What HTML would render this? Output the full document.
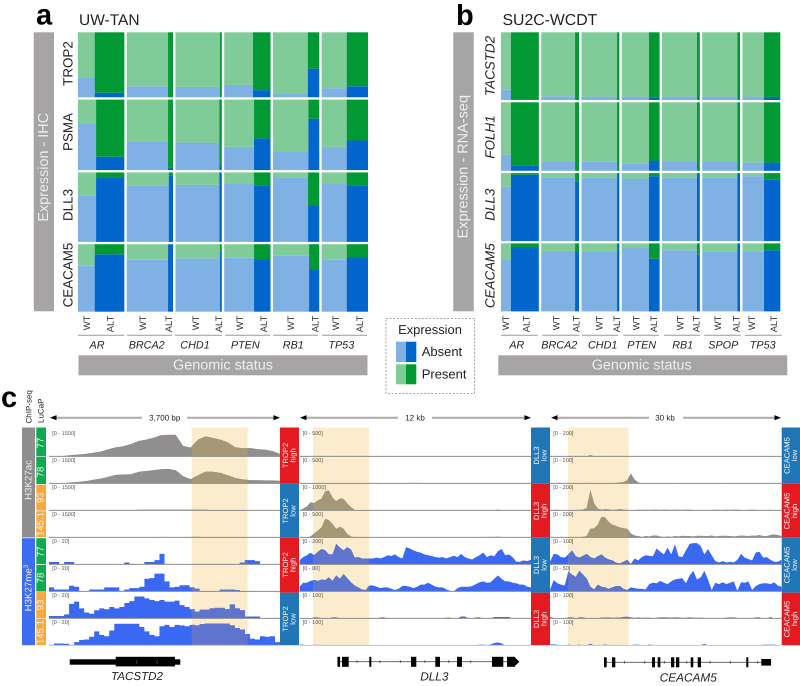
<!DOCTYPE html>
<html lang="en">
<head>
<meta charset="utf-8">
<title>Expression and ChIP-seq figure</title>
<style>
html,body{margin:0;padding:0;background:#fff}
svg{display:block;filter:blur(.3px)}
text{font-family:"Liberation Sans",sans-serif;fill:#222;text-rendering:geometricPrecision}
.rot{dominant-baseline:central}
.wl{font-size:9.4px;text-anchor:end;dominant-baseline:central;fill:#333}
.gl{font-size:10.8px;font-style:italic;text-anchor:middle;dominant-baseline:central;fill:#222}
.ul{stroke:#9a9a9a;stroke-width:1}
.wh{fill:#eee;text-anchor:middle;dominant-baseline:central}
.sb{fill:#f4f4f4;font-size:7.6px;text-anchor:middle;dominant-baseline:central}
.lu{fill:#f2f2f2;font-size:9.6px;text-anchor:middle;dominant-baseline:central}
.ex{fill:#000}
.ch{fill:none;stroke:#333;stroke-width:.6}
</style>
</head>
<body>
<svg id="fig" xmlns="http://www.w3.org/2000/svg" width="800" height="686" viewBox="0 0 800 686">
  <defs id="clips"></defs>
  <text x="36" y="24.5" font-size="29" font-weight="bold" fill="#000" style="fill:#000">a</text>
  <text x="79" y="25" font-size="15.5">UW-TAN</text>
  <text x="456" y="25" font-size="29" font-weight="bold" style="fill:#000">b</text>
  <text x="502.5" y="25" font-size="15.8">SU2C-WCDT</text>
  <text x="1" y="407" font-size="29" font-weight="bold" style="fill:#000">c</text>

  <rect x="33.7" y="32.3" width="20.3" height="279" fill="#a6a4a5"/>
  <text class="wh" font-size="14.4" transform="translate(44,167.3) rotate(-90)">Expression - IHC</text>
  <rect x="453.3" y="32.3" width="20.4" height="279" fill="#a6a4a5"/>
  <text class="wh" font-size="14.5" transform="translate(463.5,166.7) rotate(-90)">Expression - RNA-seq</text>

  <g font-size="13.4">
    <text class="rot" text-anchor="middle" transform="translate(68,63.5) rotate(-90)">TROP2</text>
    <text class="rot" text-anchor="middle" transform="translate(68,132) rotate(-90)">PSMA</text>
    <text class="rot" text-anchor="middle" transform="translate(68,205) rotate(-90)">DLL3</text>
    <text class="rot" text-anchor="middle" transform="translate(68,275) rotate(-90)">CEACAM5</text>
  </g>
  <g font-size="13.4" font-style="italic">
    <text class="rot" text-anchor="middle" transform="translate(490,66) rotate(-90)">TACSTD2</text>
    <text class="rot" text-anchor="middle" transform="translate(490,137) rotate(-90)">FOLH1</text>
    <text class="rot" text-anchor="middle" transform="translate(490,204.7) rotate(-90)">DLL3</text>
    <text class="rot" text-anchor="middle" transform="translate(490,275.7) rotate(-90)">CEACAM5</text>
  </g>

  <g id="mosaicA"></g>
  <g id="mosaicB"></g>

  <g>
    <text class="wl" transform="translate(86.7,315.7) rotate(-90)">WT</text>
    <text class="wl" transform="translate(110,315.7) rotate(-90)">ALT</text>
    <text class="wl" transform="translate(142.7,315.7) rotate(-90)">WT</text>
    <text class="wl" transform="translate(168.3,315.7) rotate(-90)">ALT</text>
    <text class="wl" transform="translate(195.3,315.7) rotate(-90)">WT</text>
    <text class="wl" transform="translate(218.3,315.7) rotate(-90)">ALT</text>
    <text class="wl" transform="translate(239.3,315.7) rotate(-90)">WT</text>
    <text class="wl" transform="translate(263.3,315.7) rotate(-90)">ALT</text>
    <text class="wl" transform="translate(290.7,315.7) rotate(-90)">WT</text>
    <text class="wl" transform="translate(315,315.7) rotate(-90)">ALT</text>
    <text class="wl" transform="translate(335.7,315.7) rotate(-90)">WT</text>
    <text class="wl" transform="translate(359.3,315.7) rotate(-90)">ALT</text>
    <line class="ul" x1="78" x2="124" y1="335.3" y2="335.3"/>
    <line class="ul" x1="127" x2="172" y1="335.3" y2="335.3"/>
    <line class="ul" x1="175" x2="222" y1="335.3" y2="335.3"/>
    <line class="ul" x1="225" x2="270" y1="335.3" y2="335.3"/>
    <line class="ul" x1="273" x2="318" y1="335.3" y2="335.3"/>
    <line class="ul" x1="322" x2="367" y1="335.3" y2="335.3"/>
    <text class="gl" x="97" y="345.7">AR</text>
    <text class="gl" x="146.7" y="345.7">BRCA2</text>
    <text class="gl" x="195" y="345.7">CHD1</text>
    <text class="gl" x="245.3" y="345.7">PTEN</text>
    <text class="gl" x="293.3" y="345.7">RB1</text>
    <text class="gl" x="341.3" y="345.7">TP53</text>
    <rect x="78.5" y="355.3" width="289" height="20" fill="#a6a4a5"/>
    <text class="wh" font-size="14.4" x="223" y="365.3">Genomic status</text>
  </g>

  <g>
    <text class="wl" transform="translate(505.7,315.7) rotate(-90)">WT</text>
    <text class="wl" transform="translate(526,315.7) rotate(-90)">ALT</text>
    <text class="wl" transform="translate(556,315.7) rotate(-90)">WT</text>
    <text class="wl" transform="translate(576,315.7) rotate(-90)">ALT</text>
    <text class="wl" transform="translate(599,315.7) rotate(-90)">WT</text>
    <text class="wl" transform="translate(616.7,315.7) rotate(-90)">ALT</text>
    <text class="wl" transform="translate(636,315.7) rotate(-90)">WT</text>
    <text class="wl" transform="translate(653.3,315.7) rotate(-90)">ALT</text>
    <text class="wl" transform="translate(680,315.7) rotate(-90)">WT</text>
    <text class="wl" transform="translate(696,315.7) rotate(-90)">ALT</text>
    <text class="wl" transform="translate(717.3,315.7) rotate(-90)">WT</text>
    <text class="wl" transform="translate(736,315.7) rotate(-90)">ALT</text>
    <text class="wl" transform="translate(751.7,315.7) rotate(-90)">WT</text>
    <text class="wl" transform="translate(773.3,315.7) rotate(-90)">ALT</text>
    <line class="ul" x1="501" x2="537.7" y1="335.3" y2="335.3"/>
    <line class="ul" x1="542.3" x2="579.3" y1="335.3" y2="335.3"/>
    <line class="ul" x1="581.7" x2="618" y1="335.3" y2="335.3"/>
    <line class="ul" x1="623.3" x2="659" y1="335.3" y2="335.3"/>
    <line class="ul" x1="664" x2="700" y1="335.3" y2="335.3"/>
    <line class="ul" x1="704.3" x2="740.7" y1="335.3" y2="335.3"/>
    <line class="ul" x1="744.7" x2="781.7" y1="335.3" y2="335.3"/>
    <text class="gl" x="516.7" y="345.7">AR</text>
    <text class="gl" x="559.3" y="345.7">BRCA2</text>
    <text class="gl" x="602.7" y="345.7">CHD1</text>
    <text class="gl" x="641.7" y="345.7">PTEN</text>
    <text class="gl" x="682.7" y="345.7">RB1</text>
    <text class="gl" x="723.3" y="345.7">SPOP</text>
    <text class="gl" x="762.7" y="345.7">TP53</text>
    <rect x="498.3" y="355.3" width="289" height="20" fill="#a6a4a5"/>
    <text class="wh" font-size="14.4" x="641.7" y="365.3">Genomic status</text>
  </g>

  <g>
    <rect x="386" y="318.3" width="88.7" height="75" fill="none" stroke="#777" stroke-width=".7" stroke-dasharray="2 1.6"/>
    <text x="430" y="329.5" font-size="12.9" text-anchor="middle" dominant-baseline="central">Expression</text>
    <rect x="396" y="341.7" width="10" height="20.3" fill="#7fb1e4"/>
    <rect x="406" y="341.7" width="10.3" height="20.3" fill="#0066cc"/>
    <rect x="396" y="364.3" width="10" height="20" fill="#80cc99"/>
    <rect x="406" y="364.3" width="10.3" height="20" fill="#009933"/>
    <text x="421.7" y="351.5" font-size="13" dominant-baseline="central">Absent</text>
    <text x="421.7" y="374" font-size="13" dominant-baseline="central">Present</text>
  </g>

  <g font-size="8">
    <text class="rot" text-anchor="start" transform="translate(29,423.5) rotate(-90)">ChIP-seq</text>
    <text class="rot" text-anchor="start" transform="translate(41,423) rotate(-90)">LuCaP</text>
  </g>

  <g font-size="8">
    <line x1="53" x2="142" y1="417.7" y2="417.7" stroke="#aaa" stroke-width="2"/>
    <line x1="187" x2="277" y1="417.7" y2="417.7" stroke="#aaa" stroke-width="2"/>
    <path d="M50 417.7l6.5-2.6v5.2zM280 417.7l-6.5-2.6v5.2z" fill="#000"/>
    <text x="164.7" y="418" text-anchor="middle" dominant-baseline="central">3,700 bp</text>
    <line x1="303" x2="398" y1="417.7" y2="417.7" stroke="#aaa" stroke-width="2"/>
    <line x1="432" x2="528" y1="417.7" y2="417.7" stroke="#aaa" stroke-width="2"/>
    <path d="M300 417.7l6.5-2.6v5.2zM531 417.7l-6.5-2.6v5.2z" fill="#000"/>
    <text x="415" y="418" text-anchor="middle" dominant-baseline="central">12 kb</text>
    <line x1="554" x2="649" y1="417.7" y2="417.7" stroke="#aaa" stroke-width="2"/>
    <line x1="683" x2="778" y1="417.7" y2="417.7" stroke="#aaa" stroke-width="2"/>
    <path d="M551 417.7l6.5-2.6v5.2zM781 417.7l-6.5-2.6v5.2z" fill="#000"/>
    <text x="665" y="418" text-anchor="middle" dominant-baseline="central">30 kb</text>
  </g>

  <g>
    <rect x="22" y="427.5" width="13" height="110" fill="#8f8d8d"/>
    <text class="wh" font-size="9.7" transform="translate(29,480) rotate(-90)">H3K27ac</text>
    <rect x="22" y="538.2" width="13" height="107" fill="#3c6cf2"/>
    <text class="wh" font-size="9.7" transform="translate(29,588) rotate(-90)">H3K27me<tspan font-size="6.5" dy="-3">3</tspan></text>
    <rect x="36.3" y="427.5" width="9.7" height="28.5" fill="#0fa94f"/>
    <rect x="36.3" y="456.6" width="9.7" height="27.4" fill="#0fa94f"/>
    <rect x="36.3" y="484.6" width="9.7" height="26" fill="#f9a840"/>
    <rect x="36.3" y="511.2" width="9.7" height="26" fill="#f9a840"/>
    <rect x="36.3" y="538.2" width="9.7" height="26" fill="#0fa94f"/>
    <rect x="36.3" y="565" width="9.7" height="26.5" fill="#0fa94f"/>
    <rect x="36.3" y="592.1" width="9.7" height="26" fill="#f9a840"/>
    <rect x="36.3" y="618.7" width="9.7" height="26.5" fill="#f9a840"/>
    <text class="lu" transform="translate(41.2,443) rotate(-90)">77</text>
    <text class="lu" transform="translate(41.2,472) rotate(-90)">78</text>
    <text class="lu" transform="translate(41.2,497.7) rotate(-90)">93</text>
    <text class="lu" transform="translate(41.2,524) rotate(-90)">145.1</text>
    <text class="lu" transform="translate(41.2,551.7) rotate(-90)">77</text>
    <text class="lu" transform="translate(41.2,578) rotate(-90)">78</text>
    <text class="lu" transform="translate(41.2,605) rotate(-90)">93</text>
    <text class="lu" transform="translate(41.2,632) rotate(-90)">145.1</text>
  </g>

  <g id="tracks"></g>

  <g>
    <rect x="280" y="427.5" width="19" height="56.3" fill="#e31a1f"/>
    <rect x="280" y="483.8" width="19" height="53.4" fill="#2176b8"/>
    <rect x="280" y="537.2" width="19" height="55.5" fill="#e31a1f"/>
    <rect x="280" y="592.7" width="19" height="52.5" fill="#2176b8"/>
    <rect x="531" y="427.5" width="19" height="56.3" fill="#2176b8"/>
    <rect x="531" y="483.8" width="19" height="53.4" fill="#e31a1f"/>
    <rect x="531" y="537.2" width="19" height="55.5" fill="#2176b8"/>
    <rect x="531" y="592.7" width="19" height="52.5" fill="#e31a1f"/>
    <rect x="781.7" y="427.5" width="18.3" height="56.3" fill="#2176b8"/>
    <rect x="781.7" y="483.8" width="18.3" height="53.4" fill="#e31a1f"/>
    <rect x="781.7" y="537.2" width="18.3" height="55.5" fill="#2176b8"/>
    <rect x="781.7" y="592.7" width="18.3" height="52.5" fill="#e31a1f"/>

    <text class="sb" transform="translate(285.5,455.5) rotate(-90)">TROP2</text>
    <text class="sb" transform="translate(293,455.5) rotate(-90)">high</text>
    <text class="sb" transform="translate(285.5,511) rotate(-90)">TROP2</text>
    <text class="sb" transform="translate(293,511) rotate(-90)">low</text>
    <text class="sb" transform="translate(285.5,565) rotate(-90)">TROP2</text>
    <text class="sb" transform="translate(293,565) rotate(-90)">high</text>
    <text class="sb" transform="translate(285.5,619) rotate(-90)">TROP2</text>
    <text class="sb" transform="translate(293,619) rotate(-90)">low</text>

    <text class="sb" transform="translate(536.5,455.5) rotate(-90)">DLL3</text>
    <text class="sb" transform="translate(544,455.5) rotate(-90)">low</text>
    <text class="sb" transform="translate(536.5,511) rotate(-90)">DLL3</text>
    <text class="sb" transform="translate(544,511) rotate(-90)">high</text>
    <text class="sb" transform="translate(536.5,565) rotate(-90)">DLL3</text>
    <text class="sb" transform="translate(544,565) rotate(-90)">low</text>
    <text class="sb" transform="translate(536.5,619) rotate(-90)">DLL3</text>
    <text class="sb" transform="translate(544,619) rotate(-90)">high</text>

    <text class="sb" transform="translate(787,455.5) rotate(-90)">CEACAM5</text>
    <text class="sb" transform="translate(794.5,455.5) rotate(-90)">low</text>
    <text class="sb" transform="translate(787,511) rotate(-90)">CEACAM5</text>
    <text class="sb" transform="translate(794.5,511) rotate(-90)">high</text>
    <text class="sb" transform="translate(787,565) rotate(-90)">CEACAM5</text>
    <text class="sb" transform="translate(794.5,565) rotate(-90)">low</text>
    <text class="sb" transform="translate(787,619) rotate(-90)">CEACAM5</text>
    <text class="sb" transform="translate(794.5,619) rotate(-90)">high</text>
  </g>

  <g>
    <rect class="ex" x="69.7" y="659.3" width="110.6" height="5.4"/>
    <rect class="ex" x="115.7" y="656.8" width="59.3" height="9.6"/>
    <path d="M137.5 660l-1.5 2 1.5 2M158 660l-1.5 2 1.5 2" fill="none" stroke="#888" stroke-width=".5"/>
    <text x="137" y="676.7" font-size="11.6" font-style="italic" text-anchor="middle" dominant-baseline="central">TACSTD2</text>
  </g>
  <g>
    <line x1="337.3" x2="519" y1="661.7" y2="661.7" stroke="#555" stroke-width=".8"/>
    <rect class="ex" x="337.5" y="656.8" width="2.6" height="10"/>
    <rect class="ex" x="342" y="656.8" width="6.7" height="10"/>
    <rect class="ex" x="369.3" y="656.8" width="2" height="10"/>
    <rect class="ex" x="411" y="656.8" width="5.3" height="10"/>
    <rect class="ex" x="435.3" y="656.8" width="4.7" height="10"/>
    <rect class="ex" x="457" y="656.8" width="5" height="10"/>
    <rect class="ex" x="492" y="656.8" width="11.3" height="10"/>
    <rect class="ex" x="507" y="656.8" width="8" height="10"/>
    <path class="ex" d="M515 657.5l4.4 4.2-4.4 4.2z"/>
    <path class="ch" d="M356.6 660.5l1 1.2-1 1.2M379.5 660.5l1 1.2-1 1.2M400 660.5l1 1.2-1 1.2M424.5 660.5l1 1.2-1 1.2M448.3 660.5l1 1.2-1 1.2M470.3 660.5l1 1.2-1 1.2"/>
    <text x="434.3" y="676.7" font-size="11.8" font-style="italic" text-anchor="middle" dominant-baseline="central">DLL3</text>
  </g>
  <g>
    <line x1="604" x2="771" y1="662.3" y2="662.3" stroke="#555" stroke-width=".8"/>
    <rect class="ex" x="604" y="657.3" width="2.7" height="10"/>
    <rect class="ex" x="612" y="657.3" width="3.3" height="10"/>
    <rect class="ex" x="652" y="657.3" width="3" height="10"/>
    <rect class="ex" x="657.7" y="657.3" width="2.7" height="10"/>
    <rect class="ex" x="671" y="657.3" width="3.3" height="10"/>
    <rect class="ex" x="676" y="657.3" width="3.3" height="10"/>
    <rect class="ex" x="690.7" y="657.3" width="2.6" height="10"/>
    <rect class="ex" x="697.7" y="657.3" width="3.3" height="10"/>
    <rect class="ex" x="746.3" y="657.3" width="2" height="10"/>
    <rect class="ex" x="761.3" y="659" width="9.7" height="6.6"/>
    <path class="ch" d="M624 661.1l1 1.2-1 1.2M644.3 661.1l1 1.2-1 1.2M664 661.1l1 1.2-1 1.2M686.3 661.1l1 1.2-1 1.2M709.7 661.1l1 1.2-1 1.2M730 661.1l1 1.2-1 1.2M757.3 661.1l1 1.2-1 1.2"/>
    <text x="688.3" y="677.7" font-size="11.8" font-style="italic" text-anchor="middle" dominant-baseline="central">CEACAM5</text>
  </g>
</svg>

<script>
/* ---------- Panel a: mosaic data ---------- */
const aGenes = ['AR','BRCA2','CHD1','PTEN','RB1','TP53'];
const aRows = ['TROP2','PSMA','DLL3','CEACAM5'];
const aRowShare = [65,70.5,69.5,67.5];
const aWtAbsent = [
  [.31,.17,.16,.19,.06,.14],
  [.66,.41,.39,.33,.27,.33],
  [.67,.81,.82,.84,.925,.84],
  [.68,.77,.79,.80,.83,.77]
];
const aAltAbsent = [
  [.07,0,0,.11,.44,.17],
  [.19,.04,.05,.45,.73,.42],
  [.92,.95,1,.81,.53,.81],
  [.85,1,.89,.78,.625,.81]
];
const aAltShare = [
  [.64,.108,.04,.378,.248,.46],
  [.61,.108,.054,.356,.235,.46],
  [.61,.093,.054,.356,.242,.46],
  [.64,.108,.04,.356,.22,.46]
];

/* ---------- Panel b: mosaic data ---------- */
const bGenes = ['AR','BRCA2','CHD1','PTEN','RB1','SPOP','TP53'];
const bRows = ['TACSTD2','FOLH1','DLL3','CEACAM5'];
const bRowShare = [67.7,68.5,68,68];
const bWtAbsent = [
  [.15,.055,.05,.05,.05,.05,.05],
  [.235,.135,.13,.11,.135,.135,.12],
  [.80,.94,.93,.92,.93,.93,.955],
  [.765,.89,.88,.94,.90,.885,.88]
];
const bAltAbsent = [
  [.01,0,0,.035,0,0,.045],
  [.08,0,0,.15,0,0,.12],
  [.975,.88,1,.955,1,1,.90],
  [.94,.88,1,.775,.83,1,.90]
];
const bAltShare = [
  [.736,.106,.06,.28,.074,.07,.43],
  [.736,.106,.06,.28,.074,.07,.43],
  [.736,.106,.06,.28,.074,.07,.43],
  [.736,.106,.06,.28,.074,.07,.43]
];

/* ---------- Panel c: coverage, percent of displayed track range ---------- */
const tacstd2_ac77 = [0,1,2,5,7,10,14,18,27,34,38,46,57,62,69,79,80,80,39,33,62,74,68,62,52,34,30,31,27,25,20,10];
const tacstd2_ac78 = [0,0,1,4,6,9,14,18,25,32,33,34,43,46,49,53,54,49,27,16,30,43,43,39,30,20,15,12,12,11,11,10];
const tacstd2_ac93 = [0,0,0,0,0,0,0,0,0,0,0,0,3,3,3,3,3,3,3,3,3,3,0,0,0,0,0,0,0,0,0,0];
const tacstd2_ac145 = [0,0,0,0,0,0,0,0,0,0,0,0,0,0,0,2,0,0,0,2,2,0,0,0,0,0,0,0,0,0,0,0];
const tacstd2_me77 = [9,9,0,9,9,0,0,0,0,0,0,0,0,0,0,7,2,0,0,9,9,16,39,2,0,0,0,0,0,0,0,0,0,0,0,0,0,0,7,16,16,12,0,0,0,0];
const tacstd2_me78 = [15,7,7,7,21,17,0,0,7,7,7,15,15,15,2,7,12,12,17,47,49,66,66,37,15,17,23,23,15,10,0,0,0,0,7,7,7,5,0,0,0,0,0,0,0,0];
const tacstd2_me93 = [9,9,9,15,54,62,37,22,17,30,37,34,42,37,42,57,64,81,81,74,68,64,68,62,62,66,49,42,34,25,32,32,37,39,39,34,52,37,30,7,7,7,0,0,0,0];
const tacstd2_me145 = [2,7,7,6,2,12,20,22,32,52,39,34,55,80,80,80,80,80,68,52,39,34,71,76,68,76,74,71,76,74,79,81,81,81,81,81,74,64,59,42,25,22,34,32,34,12];

const dll3_ac77 = [0,0];
const dll3_ac78 = [
  0,0,0,0,0,0,0,0,0,0,0,0,0,0,0,0,
  0,0,0,0,0,0,0,0,0,0,0,0,0,0,2,2,
  2,2,0,0,0,0,0,0,0,0,0,0,0,0,0,0,
  0,0,0,0,0,0,1,0,0,0,0,0,0,0,0,0];
const dll3_ac93 = [
  0,7,15,30,27,37,43,71,74,47,34,44,42,25,12,2,
  0,0,0,0,0,0,0,0,0,0,0,0,0,0,0,0,
  0,0,0,0,0,0,0,0,0,0,0,0,0,0,0,0,
  0,0,0,2,0,0,4,0,0,0,0,0,0,0,0,0];
const dll3_ac145 = [
  0,0,0,4,15,25,37,69,64,49,32,39,32,12,4,0,
  0,0,0,0,0,0,0,0,0,0,0,0,0,0,0,0,
  0,0,0,0,0,0,0,0,0,0,0,0,0,0,0,0,
  0,0,0,2,2,2,3,2,0,0,0,0,0,0,0,0];
const dll3_me77 = [
  15,27,34,43,34,47,57,52,37,37,76,62,52,64,55,25,
  27,22,22,22,22,25,22,27,34,31,37,27,22,64,59,52,
  47,43,37,34,31,27,25,27,22,27,32,27,39,27,22,18,
  27,34,44,27,34,30,49,57,34,37,27,10,10,15,12,17];
const dll3_me78 = [
  17,32,32,39,42,39,44,42,52,39,59,47,64,49,34,22,
  15,7,5,22,22,17,12,15,15,10,5,10,20,20,17,12,
  17,25,25,32,25,17,15,15,7,2,0,12,17,17,17,20,
  27,34,37,32,34,47,59,47,37,37,32,30,25,25,17,15];
const dll3_me93 = [
  0,0,0,0,4,4,0,0,0,4,4,0,0,0,0,0,
  0,0,0,0,0,0,4,4,0,0,0,0,0,0,0,0,
  0,0,0,0,0,0,0,0,3,3,0,0,7,7,0,0,
  4,4,0,0,0,5,5,5,5,5,0,0,0,0,0,0];
const dll3_me145 = [
  3,3,0,0,2,2,0,0,0,0,0,0,0,0,0,0,
  2,0,0,0,0,2,0,2,0,0,0,0,0,0,0,0,
  0,0,0,0,0,0,0,0,0,0,0,0,0,0,0,0,
  0,3,3,0,4,9,11,7,0,2,0,0,0,0,0,0];

const ceacam5_ac77 = [
  0,0,0,1,0,0,0,0,0,0,0,5,0,0,0,0,
  0,0,0,0,0,2,0,0,0,0,0,0,0,0,0,0,
  0,0,0,0,0,0,1,0,0,0,0,0,0,0,0,0,
  0,0,1,0,0,0,0,0,0,1,0,0,0,0,0,0];
const ceacam5_ac78 = [
  0,0,0,0,0,0,0,0,0,0,0,2,0,0,0,0,
  0,0,2,4,5,12,37,15,4,0,0,0,0,1,0,0,
  0,0,0,2,0,0,0,0,0,0,0,0,0,0,0,0,
  2,0,0,0,0,0,0,0,0,0,0,0,0,0,2,0];
const ceacam5_ac93 = [
  2,2,3,0,0,0,0,2,2,3,10,75,26,7,3,5,
  4,2,3,5,3,2,0,0,3,2,3,2,3,3,2,3,
  3,2,3,3,2,3,3,2,0,0,0,0,2,3,2,2,
  3,2,3,3,2,0,2,3,2,0,2,0,3,0,0,3];
const ceacam5_ac145 = [
  2,0,1,2,0,0,1,0,1,2,5,32,34,47,76,74,
  57,47,42,37,34,32,15,7,5,2,5,4,7,7,4,2,
  4,2,5,4,6,5,5,4,6,6,5,5,7,4,5,6,
  6,5,4,5,7,6,5,7,6,9,5,5,9,11,9,5];
const ceacam5_me77 = [
  10,39,37,27,25,37,52,30,25,32,39,27,22,30,37,25,
  18,15,6,4,10,17,2,22,15,27,34,32,30,59,47,37,
  62,37,74,30,27,52,76,79,79,68,37,57,34,12,7,12,
  7,10,7,17,39,25,20,15,44,47,25,27,17,10,10,17];
const ceacam5_me78 = [
  5,42,30,25,22,74,62,54,76,62,47,17,7,25,17,15,
  10,15,20,20,10,5,15,12,10,10,7,27,32,30,39,32,
  27,37,44,47,49,30,59,76,44,52,76,44,5,32,27,34,
  27,32,37,2,34,32,37,5,20,27,30,30,27,34,22,17];
const ceacam5_me93 = [
  5,2,0,0,0,4,4,0,4,4,0,0,0,0,3,3,
  4,2,3,3,5,6,4,2,4,2,3,3,0,3,4,4,
  4,3,4,4,2,3,4,3,2,3,2,0,0,0,0,0,
  3,4,4,2,0,0,0,0,4,4,0,0,5,0,0,0];
const ceacam5_me145 = [
  4,4,3,0,0,3,0,0,3,0,0,6,0,0,0,4,
  0,0,0,0,0,0,0,3,3,0,0,4,0,0,0,0,
  0,0,0,0,0,0,0,0,0,0,6,0,0,0,0,0,
  0,0,0,0,0,0,0,0,0,0,3,3,3,3,0,0];

const tacstd2Ranges = ['[0 - 1500]','[0 - 1500]','[0 - 1500]','[0 - 1500]','[0 - 20]','[0 - 20]','[0 - 20]','[0 - 20]'];
const dll3Ranges = ['[0 - 500]','[0 - 500]','[0 - 1000]','[0 - 500]','[0 - 200]','[0 - 80]','[0 - 100]','[0 - 100]'];
const ceacam5Ranges = ['[0 - 200]','[0 - 200]','[0 - 200]','[0 - 200]','[0 - 100]','[0 - 50]','[0 - 100]','[0 - 100]'];

/* ---------- Drawing ---------- */
const NS = 'http://www.w3.org/2000/svg';
function mk(parent, tag, attrs) {
  const el = document.createElementNS(NS, tag);
  for (const k in attrs) el.setAttribute(k, attrs[k]);
  parent.appendChild(el);
  return el;
}
function kebab(s) { return String(s).toLowerCase().replace(/[^a-z0-9]+/g, '-'); }

function drawMosaic(target, o) {
  const groupStep = (o.x1 - o.x0 + o.gapX) / o.genes.length;
  const groupW = groupStep - o.gapX;
  const xBand = g => o.x0 + g * groupStep;
  const shareSum = o.rowShare.reduce((a, b) => a + b, 0);
  const rowUnit = (o.y1 - o.y0 - o.gapY * (o.rows.length - 1)) / shareSum;
  const yTop = r => o.y0 + o.rowShare.slice(0, r).reduce((a, b) => a + b, 0) * rowUnit + r * o.gapY;
  const rowH = r => o.rowShare[r] * rowUnit;
  const colors = {wtA:'#7fb1e4', wtP:'#80cc99', altA:'#0066cc', altP:'#009933'};
  o.rows.forEach((row, r) => {
    o.genes.forEach((gene, g) => {
      const gx = xBand(g);
      const altW = o.altShare[r][g] * groupW;
      const wtW = groupW - altW;
      const top = yTop(r), h = rowH(r);
      const wtAbsH = o.wtAbsent[r][g] * h;
      const altAbsH = o.altAbsent[r][g] * h;

      const a = mk(target, 'rect', {x: gx, y: top + h - wtAbsH, width: wtW, height: wtAbsH, fill: colors.wtA});
      
      
      const b = mk(target, 'rect', {x: gx, y: top, width: wtW, height: h - wtAbsH, fill: colors.wtP});
      
      
      const c = mk(target, 'rect', {x: gx + wtW, y: top + h - altAbsH, width: altW, height: altAbsH, fill: colors.altA});
      
      
      const d = mk(target, 'rect', {x: gx + wtW, y: top, width: altW, height: h - altAbsH, fill: colors.altP});
      
      
    });
  });
}

drawMosaic(document.getElementById('mosaicA'), {
  genes: aGenes, rows: aRows, rowShare: aRowShare,
  wtAbsent: aWtAbsent, altAbsent: aAltAbsent, altShare: aAltShare,
  x0: 78, x1: 368, y0: 32.3, y1: 311.7, gapX: 2.4, gapY: 2.33
});
drawMosaic(document.getElementById('mosaicB'), {
  genes: bGenes, rows: bRows, rowShare: bRowShare,
  wtAbsent: bWtAbsent, altAbsent: bAltAbsent, altShare: bAltShare,
  x0: 501, x1: 780.3, y0: 32.3, y1: 311.4, gapX: 2.4, gapY: 2.3
});

const trackLayer = document.getElementById('tracks');
const clipLayer = document.getElementById('clips');
const trackNames = ['h3k27ac-77','h3k27ac-78','h3k27ac-93','h3k27ac-145','h3k27me3-77','h3k27me3-78','h3k27me3-93','h3k27me3-145'];
const regions = [
  {name:'tacstd2', x0:49, x1:280, hi0:191.7, hi1:247.7, ranges:tacstd2Ranges, blueStep:true,
   series:[tacstd2_ac77,tacstd2_ac78,tacstd2_ac93,tacstd2_ac145,tacstd2_me77,tacstd2_me78,tacstd2_me93,tacstd2_me145]},
  {name:'dll3', x0:299.5, x1:531, hi0:313, hi1:369, ranges:dll3Ranges, blueStep:false,
   series:[dll3_ac77,dll3_ac78,dll3_ac93,dll3_ac145,dll3_me77,dll3_me78,dll3_me93,dll3_me145]},
  {name:'ceacam5', x0:550, x1:781.5, hi0:568, hi1:628.7, ranges:ceacam5Ranges, blueStep:false,
   series:[ceacam5_ac77,ceacam5_ac78,ceacam5_ac93,ceacam5_ac145,ceacam5_me77,ceacam5_me78,ceacam5_me93,ceacam5_me145]}
];
const trackTop = 427.5;
const trackBottom = 645.4;
const baseY = row => 456.4 + row * 27;
const valueH = v => v / 100 * 27;

function coveragePath(values, x0, x1, base, step) {
  const n = values.length;
  if (step) {
    const w = (x1 - x0) / n;
    let d = 'M' + x0 + ' ' + base;
    values.forEach((v, i) => {
      const y = (base - valueH(v)).toFixed(2);
      d += 'L' + (x0 + i * w).toFixed(2) + ' ' + y + 'L' + (x0 + (i + 1) * w).toFixed(2) + ' ' + y;
    });
    return d + 'L' + x1 + ' ' + base + 'Z';
  }
  const w = (x1 - x0) / (n - 1);
  let d = 'M' + x0 + ' ' + base;
  values.forEach((v, i) => {
    d += 'L' + (x0 + i * w).toFixed(2) + ' ' + (base - valueH(v)).toFixed(2);
  });
  return d + 'L' + x1 + ' ' + base + 'Z';
}

regions.forEach(reg => {
  const hi = mk(trackLayer, 'rect', {
    x: reg.hi0, y: trackTop, width: reg.hi1 - reg.hi0, height: trackBottom - trackTop,
    fill: '#faeccd'
  });
  
  

  const clipId = 'clip-' + reg.name;
  const clip = mk(clipLayer, 'clipPath', {id: clipId});
  
  
  const clipRect = mk(clip, 'rect', {x: reg.hi0, y: trackTop, width: reg.hi1 - reg.hi0, height: trackBottom - trackTop});
  
  

  reg.series.forEach((vals, row) => {
    const isBlue = row >= 4;
    const d = coveragePath(vals, reg.x0, reg.x1, baseY(row), isBlue && reg.blueStep);
    const area = mk(trackLayer, 'path', {d: d, fill: isBlue ? '#3a68f2' : '#908e8e'});
    
    

    const tinted = mk(trackLayer, 'path', {d: d, fill: isBlue ? '#5f74cc' : '#a59876', 'clip-path': 'url(#' + clipId + ')'});
    
    

    const line = mk(trackLayer, 'line', {
      x1: reg.x0, x2: reg.x1, y1: baseY(row), y2: baseY(row),
      stroke: row === 7 ? '#c4c4c4' : '#8d8d8d', 'stroke-width': 1
    });
    
    

    const label = mk(trackLayer, 'text', {
      x: reg.x0 + 3.2, y: baseY(row) - 22.4,
      'font-size': 5.5, 'dominant-baseline': 'central', style: 'fill:#555'
    });
    label.textContent = reg.ranges[row];
    
    
  });
});
</script>
</body>
</html>
